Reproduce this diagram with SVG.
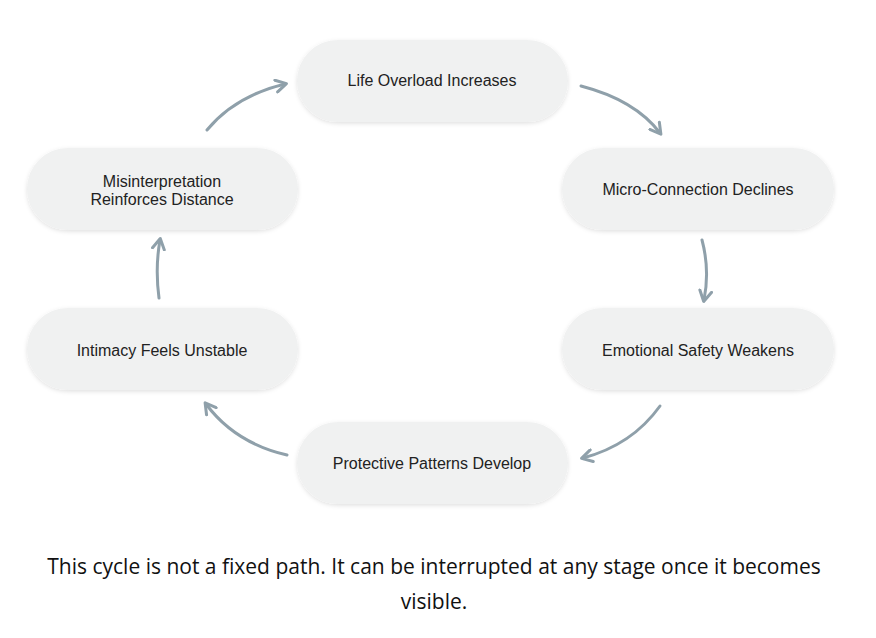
<svg xmlns="http://www.w3.org/2000/svg" width="876" height="638" viewBox="0 0 876 638">
<defs>
<filter id="sh" x="-10%" y="-20%" width="120%" height="150%"><feDropShadow dx="0" dy="1.5" stdDeviation="2" flood-color="#000" flood-opacity="0.12"/></filter>
<marker id="ah" viewBox="0 0 10 10" refX="7" refY="5" markerWidth="5" markerHeight="5" orient="auto"><path d="M1,1 L8,5 L1,9" fill="none" stroke="#8fa0aa" stroke-width="2" stroke-linecap="round" stroke-linejoin="round"/></marker>
</defs>
<style>
.n{fill:#f0f1f1;filter:url(#sh)}
.t{font-family:"Liberation Sans",Arial,sans-serif;font-size:16px;fill:#222;text-anchor:middle}
.c{fill:none;stroke:#8fa0aa;stroke-width:3;stroke-linecap:round;marker-end:url(#ah)}
.cap{font-family:"Open Sans","Liberation Sans",sans-serif;font-size:21px;fill:#111;text-anchor:middle}
</style>
<rect width="876" height="638" fill="#fff"/>
<g id="connectors">
<path class="c" d="M207,130 Q235,96 285,84"/>
<path class="c" d="M581,86 Q635,100 660,133"/>
<path class="c" d="M702,240 Q710,270 704,300"/>
<path class="c" d="M660,406 Q632,445 583,458"/>
<path class="c" d="M287,455 Q235,443 206,404"/>
<path class="c" d="M159,298 Q155,268 160,240"/>
</g>
<g id="n1"><rect class="n" x="297" y="40" width="271" height="82" rx="41"/><text class="t" x="432" y="86">Life Overload Increases</text></g>
<g id="n2"><rect class="n" x="562" y="148" width="272" height="82" rx="41"/><text class="t" x="698" y="195">Micro-Connection Declines</text></g>
<g id="n3"><rect class="n" x="562" y="308" width="272" height="82" rx="41"/><text class="t" x="698" y="356">Emotional Safety Weakens</text></g>
<g id="n4"><rect class="n" x="297" y="422" width="271" height="82" rx="41"/><text class="t" x="432" y="469">Protective Patterns Develop</text></g>
<g id="n5"><rect class="n" x="27" y="308" width="271" height="82" rx="41"/><text class="t" x="162" y="356">Intimacy Feels Unstable</text></g>
<g id="n6"><rect class="n" x="27" y="148" width="271" height="82" rx="41"/><text class="t" x="162" y="187">Misinterpretation</text><text class="t" x="162" y="205">Reinforces Distance</text></g>
<text class="cap" x="434" y="574">This cycle is not a fixed path. It can be interrupted at any stage once it becomes</text>
<text class="cap" x="434" y="609">visible.</text>
</svg>
